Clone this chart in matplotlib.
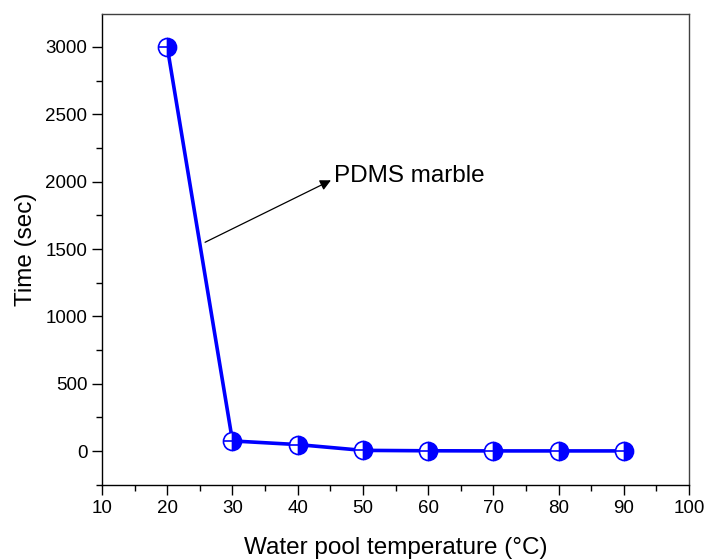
import matplotlib
matplotlib.use('Agg')
import matplotlib.pyplot as plt
from matplotlib.ticker import MultipleLocator

plt.rcParams['font.family'] = ['Liberation Sans', 'DejaVu Sans']

temps = [20, 30, 40, 50, 60, 70, 80, 90]
times = [3000, 75, 48, 5, 2, 1, 1, 1]

fig = plt.figure(figsize=(7.09, 5.59), dpi=100)
ax = fig.add_axes([0.1439, 0.1324, 0.8279, 0.8426])

ax.plot(temps, times, color='#0000ff', lw=2.6, zorder=2)
ax.plot(temps, times, ls='none', marker='o', ms=13, fillstyle='right',
        markerfacecolor='#0000ff', markerfacecoloralt='white',
        markeredgecolor='#0000ff', mew=1.2, zorder=3)
ax.plot(temps, times, ls='none', marker='_', ms=13, color='#0000ff',
        mew=1.2, zorder=4)

# arrow pointing at the label
ax.annotate('', xy=(45.1, 2010), xytext=(25.8, 1550),
            arrowprops=dict(arrowstyle='-|>', color='black', lw=0.9,
                            mutation_scale=16, shrinkA=0, shrinkB=0))
ax.text(45.6, 2040, 'PDMS marble', fontsize=17.5, va='center', ha='left')

ax.set_xlim(10, 100)
ax.set_ylim(-252, 3245)
ax.xaxis.set_major_locator(MultipleLocator(10))
ax.xaxis.set_minor_locator(MultipleLocator(5))
ax.yaxis.set_major_locator(MultipleLocator(500))
ax.yaxis.set_minor_locator(MultipleLocator(250))
ax.tick_params(which='major', direction='out', length=7, width=1,
               labelsize=13.5, top=False, right=False)
ax.tick_params(which='minor', direction='out', length=4, width=1,
               top=False, right=False)

for s in ['left', 'bottom']:
    ax.spines[s].set_linewidth(1.0)
    ax.spines[s].set_color('black')
for s in ['top', 'right']:
    ax.spines[s].set_linewidth(1.0)
    ax.spines[s].set_color('#404040')

ax.set_xlabel('Water pool temperature (°C)', fontsize=17.5, labelpad=15)
ax.set_ylabel('Time (sec)', fontsize=17.5, labelpad=6)

fig.savefig('out.png', dpi=100)
